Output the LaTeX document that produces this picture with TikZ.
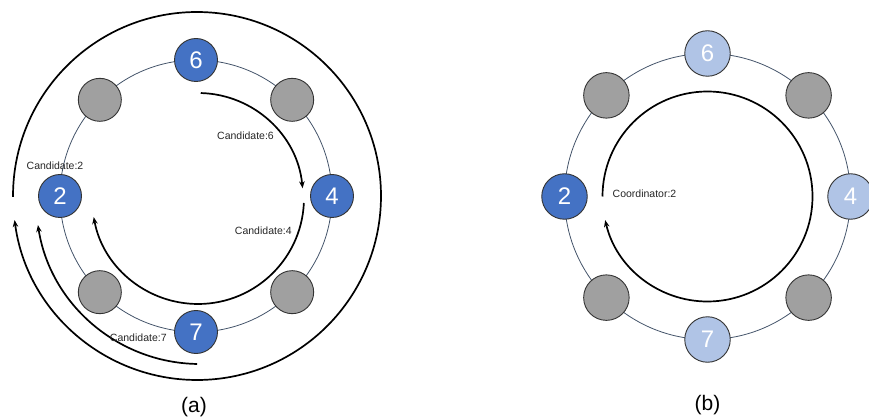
\documentclass[tikz,border=0pt]{standalone}
\usepackage{fontspec}
\setmainfont{Liberation Sans}
\usetikzlibrary{arrows.meta,calc}
\definecolor{ringc}{HTML}{44546A}
\definecolor{blue1}{HTML}{4472C4}
\definecolor{lblue}{HTML}{B0C4E6}
\definecolor{grayf}{HTML}{A0A0A0}
\begin{document}
\begin{tikzpicture}[x=1pt,y=1pt,
 pnode/.style={circle, draw=black!80, line width=0.9pt, inner sep=0pt, font=\fontsize{24}{24}\selectfont, text=white},
 lsize/.style={minimum size=43pt},
 rsize/.style={minimum size=45.5pt},
 active/.style={pnode, fill=blue1},
 passive/.style={pnode, fill=lblue},
 idle/.style={pnode, fill=grayf},
 ring/.style={draw=ringc, line width=0.8pt},
 msg/.style={line width=1.7pt, -{Stealth[length=7pt,width=5.5pt]}},
 plain/.style={line width=1.7pt},
 lbl/.style={font=\fontsize{10.5}{12}\selectfont, text=black!85, inner sep=0pt},
 capt/.style={font=\fontsize{21}{24}\selectfont, inner sep=0pt}]
\useasboundingbox (0,0) rectangle (869,-419);
\clip (0,0) rectangle (869,-419);

% ---------- (a) ----------
\coordinate (lc) at (196,-196);
\draw[ring] (lc) circle[radius=136pt];
\node[active,lsize] (l6) at ($(lc)+(90:136)$) {6};
\node[idle,lsize]   (lg1) at ($(lc)+(45:136)$) {};
\node[active,lsize] (l4) at ($(lc)+(0:136)$) {4};
\node[idle,lsize]   (lg2) at ($(lc)+(-45:136)$) {};
\node[active,lsize] (l7) at ($(lc)+(-90:136)$) {7};
\node[idle,lsize]   (lg3) at ($(lc)+(-135:136)$) {};
\node[active,lsize] (l2) at ($(lc)+(180:136)$) {2};
\node[idle,lsize]   (lg4) at ($(lc)+(135:136)$) {};

% outer arc (almost full circle)
\coordinate (oc) at (197,-196);
\draw[msg] ($(oc)+(180.3:184)$) arc[start angle=180.3, end angle=-172.5, radius=184pt];
% middle arc from 7 to 2
\coordinate (mc) at (200,-200);
\draw[msg] ($(mc)+(-91:164)$) arc[start angle=-91, end angle=-171.2, radius=164pt];
% inner arcs
\coordinate (ic) at (198,-198);
\draw[msg] ($(ic)+(88.5:105)$) arc[start angle=88.5, end angle=5.3, radius=105pt];
\draw[msg] ($(ic)+(-2.7:106)$) arc[start angle=-2.7, end angle=-169.6, radius=106pt];

\node[lbl] (t6) at (245.5,-136) {Candidate:6};
\node[lbl] (t4) at (263.3,-231) {Candidate:4};
\node[lbl] (t2) at (55,-166) {Candidate:2};
\node[lbl] (t7) at (138.3,-337.5) {Candidate:7};
\node[capt] (ca) at (194,-407) {(a)};

% ---------- (b) ----------
\coordinate (rc) at (707.5,-196.5);
\draw[ring] (rc) circle[radius=143pt];
\node[passive,rsize] (r6) at ($(rc)+(90:143)$) {6};
\node[idle,rsize]    (rg1) at ($(rc)+(45:143)$) {};
\node[passive,rsize] (r4) at ($(rc)+(0:143)$) {4};
\node[idle,rsize]    (rg2) at ($(rc)+(-45:143)$) {};
\node[passive,rsize] (r7) at ($(rc)+(-90:143)$) {7};
\node[idle,rsize]    (rg3) at ($(rc)+(-135:143)$) {};
\node[active,rsize]  (r2) at ($(rc)+(180:143)$) {2};
\node[idle,rsize]    (rg4) at ($(rc)+(135:143)$) {};

\draw[msg] ($(rc)+(180:105)$) arc[start angle=180, end angle=-167, radius=105pt];
\node[lbl] (tc) at (644.5,-194) {Coordinator:2};
\node[capt] (cb) at (707.5,-405) {(b)};
\end{tikzpicture}
\end{document}
